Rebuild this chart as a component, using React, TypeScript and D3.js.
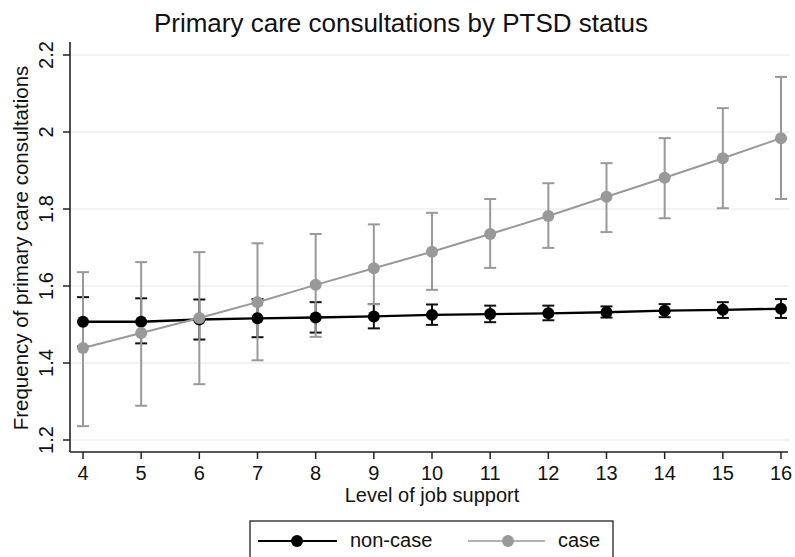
import React from "react";
import * as d3 from "d3";

const levels = [4, 5, 6, 7, 8, 9, 10, 11, 12, 13, 14, 15, 16];
const nonCaseMean = [1.507, 1.507, 1.513, 1.516, 1.518, 1.521, 1.525, 1.527, 1.529, 1.532, 1.536, 1.538, 1.541];
const nonCaseLow = [1.443, 1.451, 1.461, 1.467, 1.479, 1.490, 1.499, 1.506, 1.511, 1.518, 1.519, 1.517, 1.517];
const nonCaseHigh = [1.571, 1.568, 1.565, 1.566, 1.558, 1.553, 1.552, 1.549, 1.549, 1.547, 1.553, 1.558, 1.566];
const caseMean = [1.439, 1.478, 1.517, 1.558, 1.603, 1.646, 1.689, 1.735, 1.782, 1.832, 1.881, 1.932, 1.984];
const caseLow = [1.236, 1.289, 1.345, 1.407, 1.468, 1.553, 1.590, 1.647, 1.699, 1.740, 1.776, 1.802, 1.826];
const caseHigh = [1.636, 1.662, 1.688, 1.711, 1.735, 1.760, 1.790, 1.826, 1.867, 1.919, 1.984, 2.062, 2.143];
const yTicks = [1.2, 1.4, 1.6, 1.8, 2, 2.2];
const seriesNames = ["non-case", "case"];

const W = 795, H = 557;
const FONT = "'Liberation Sans', Arial, Helvetica, sans-serif";

export default function App() {
  const x = d3.scaleLinear().domain([4, 16]).range([83, 781]);
  const y = d3.scaleLinear().domain([1.2, 2.2]).range([440, 55]);
  const left = 70, right = 788, top = 42, bottom = 452;

  const series = [
    { name: seriesNames[0], mean: nonCaseMean, low: nonCaseLow, high: nonCaseHigh, color: "#000000", lineW: 2.4, barColor: "#111111" },
    { name: seriesNames[1], mean: caseMean, low: caseLow, high: caseHigh, color: "#999999", lineW: 2, barColor: "#999999" },
  ];

  const line = d3.line<number>().x((_, i) => x(levels[i])).y((d) => y(d));
  const cap = 6;
  const r = 6;

  return (
    <svg width={W} height={H} style={{ position: "absolute", left: 0, top: 0, background: "#fff" }}>
      <rect x={0} y={0} width={W} height={H} fill="#fff" />
      <text x={401} y={32} textAnchor="middle" fontFamily={FONT} fontSize={26} fill="#111">
        Primary care consultations by PTSD status
      </text>
      {yTicks.map((t) => (
        <line key={"g" + t} x1={left} x2={790} y1={y(t)} y2={y(t)} stroke="#e8e8e8" strokeWidth={1.2} />
      ))}
      <line x1={left} x2={left} y1={top} y2={bottom} stroke="#222" strokeWidth={1.6} />
      <line x1={left} x2={right} y1={bottom} y2={bottom} stroke="#222" strokeWidth={1.6} />
      {yTicks.map((t) => (
        <g key={"yt" + t}>
          <line x1={left - 7} x2={left} y1={y(t)} y2={y(t)} stroke="#222" strokeWidth={1.5} />
          <text transform={`translate(${53},${y(t)}) rotate(-90)`} textAnchor="middle" fontFamily={FONT} fontSize={20} fill="#111">
            {String(t)}
          </text>
        </g>
      ))}
      {levels.map((l) => (
        <g key={"xt" + l}>
          <line x1={x(l)} x2={x(l)} y1={bottom} y2={bottom + 7} stroke="#222" strokeWidth={1.5} />
          <text x={x(l)} y={480} textAnchor="middle" fontFamily={FONT} fontSize={20} fill="#111">
            {l}
          </text>
        </g>
      ))}
      <text x={432} y={502} textAnchor="middle" fontFamily={FONT} fontSize={20} fill="#111">
        Level of job support
      </text>
      <text transform={`translate(${28},${248}) rotate(-90)`} textAnchor="middle" fontFamily={FONT} fontSize={20.5} fill="#111">
        Frequency of primary care consultations
      </text>
      {series.map((s) => (
        <g key={s.name}>
          {levels.map((l, i) => (
            <g key={l}>
              <line x1={x(l)} x2={x(l)} y1={y(s.low[i])} y2={y(s.high[i])} stroke={s.barColor} strokeWidth={2} />
              <line x1={x(l) - cap} x2={x(l) + cap} y1={y(s.low[i])} y2={y(s.low[i])} stroke={s.barColor} strokeWidth={2} />
              <line x1={x(l) - cap} x2={x(l) + cap} y1={y(s.high[i])} y2={y(s.high[i])} stroke={s.barColor} strokeWidth={2} />
            </g>
          ))}
        </g>
      ))}
      {series.map((s) => (
        <g key={"l" + s.name}>
          <path d={line(s.mean) || ""} fill="none" stroke={s.color} strokeWidth={s.lineW} />
          {levels.map((l, i) => (
            <circle key={l} cx={x(l)} cy={y(s.mean[i])} r={r} fill={s.color} />
          ))}
        </g>
      ))}
      <rect x={250} y={521} width={363} height={50} fill="#fff" stroke="#222" strokeWidth={1.3} />
      <line x1={258} x2={337} y1={541} y2={541} stroke="#000" strokeWidth={2} />
      <circle cx={297} cy={541} r={r} fill="#000" />
      <text x={350} y={547} fontFamily={FONT} fontSize={20} fill="#111">{seriesNames[0]}</text>
      <line x1={468} x2={545} y1={541} y2={541} stroke="#999999" strokeWidth={1.5} />
      <circle cx={508} cy={541} r={r} fill="#999999" />
      <text x={558} y={547} fontFamily={FONT} fontSize={20} fill="#111">{seriesNames[1]}</text>
    </svg>
  );
}
